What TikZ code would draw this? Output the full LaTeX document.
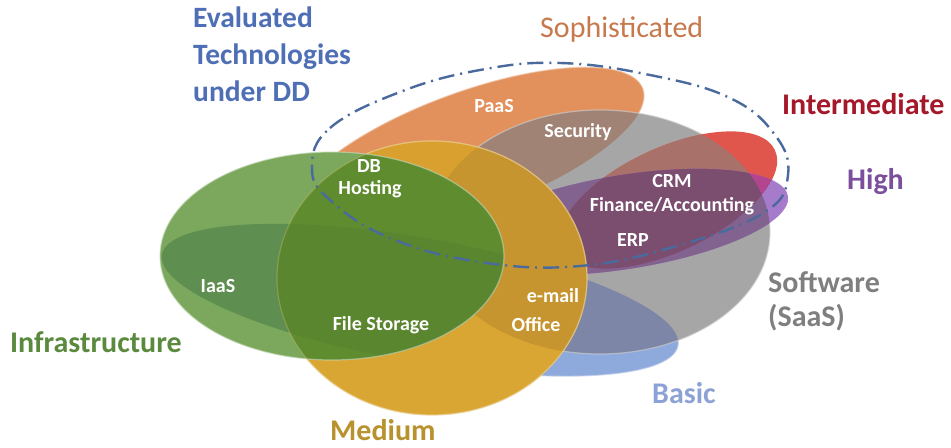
\documentclass[tikz,border=0pt]{standalone}
\usepackage{fontspec}
\setmainfont{Carlito}
\definecolor{cBlue}{HTML}{8EA9DB}
\definecolor{cOrange}{HTML}{E3915C}
\definecolor{cGray}{HTML}{A6A6A6}
\definecolor{cSec}{HTML}{A08374}
\definecolor{cGB}{HTML}{7D86A6}
\definecolor{cRed}{HTML}{E0554C}
\definecolor{cRG}{HTML}{A8716A}
\definecolor{cPur}{HTML}{A77BCB}
\definecolor{cPG}{HTML}{82638F}
\definecolor{cPR}{HTML}{B3458F}
\definecolor{cPRG}{HTML}{7B4E70}
\definecolor{cYel}{HTML}{D9A533}
\definecolor{cYO}{HTML}{D9A030}
\definecolor{cYG}{HTML}{C6952F}
\definecolor{cGrn}{HTML}{7BA85C}
\definecolor{cGnB}{HTML}{5E8E50}
\definecolor{cGnY}{HTML}{5E8C2F}
\definecolor{cGnYB}{HTML}{5A8630}
\definecolor{cDash}{HTML}{4A6A9E}
\definecolor{cEval}{HTML}{4E6FB5}
\definecolor{cSoph}{HTML}{C7794D}
\definecolor{cInt}{HTML}{A5182A}
\definecolor{cHigh}{HTML}{7B4F9E}
\definecolor{cSoft}{HTML}{7F7F7F}
\definecolor{cBasic}{HTML}{8CA2D6}
\definecolor{cInfra}{HTML}{5A8A3E}
\definecolor{cMed}{HTML}{B8922D}
\def\pBlue{[rotate around={-10:(420,300)}] (420,300) ellipse [x radius=262bp, y radius=62bp]}
\def\pOrange{[rotate around={20:(469,152)}] (469,152) ellipse [x radius=185bp, y radius=60bp]}
\def\pGray{(600,232) ellipse [x radius=170bp, y radius=122bp]}
\def\pRed{[rotate around={25:(668,200)}] (668,200) ellipse [x radius=118bp, y radius=52bp]}
\def\pPurple{[rotate around={9:(625,222)}] (625,222) ellipse [x radius=165bp, y radius=47bp]}
\def\pYellow{(432,278) ellipse [x radius=155bp, y radius=137bp]}
\def\pGreen{(332,256) ellipse [x radius=172bp, y radius=104bp]}
\tikzset{
  outer/.style={font=\fontsize{30bp}{36bp}\selectfont\bfseries, inner sep=0pt, anchor=base west},
  inner/.style={font=\fontsize{20bp}{24bp}\selectfont\bfseries, text=white, inner sep=0pt, anchor=base},
  edge/.style={line width=1.2bp, opacity=0.6},
  ddline/.style={draw=cDash, line width=2.4bp, dash pattern=on 16bp off 6bp on 2bp off 6bp}
}
\begin{document}
\begin{tikzpicture}[x=1bp,y=-1bp]
\useasboundingbox (0,0) rectangle (951,448);
\fill[white] (0,0) rectangle (951,448);
% Basic
\fill[cBlue]\pBlue;
\draw[edge, draw=cBlue!60!white]\pBlue;
% Sophisticated
\fill[cOrange]\pOrange;
\draw[edge, draw=cOrange!50!white]\pOrange;
% Software
\fill[cGray]\pGray;
\begin{scope}\clip\pGray; \fill[cSec]\pOrange; \fill[cGB]\pBlue; \end{scope}
\draw[edge, draw=cGray!50!white]\pGray;
% Intermediate
\fill[cRed]\pRed;
\begin{scope}\clip\pRed; \fill[cRG]\pGray; \end{scope}
% High
\fill[cPur]\pPurple;
\begin{scope}\clip\pPurple; \fill[cPG]\pGray; \clip\pRed; \fill[cPR]\pRed; \clip\pGray; \fill[cPRG]\pGray; \end{scope}
% Medium
\fill[cYel]\pYellow;
\begin{scope}\clip\pYellow; \fill[cYO]\pOrange; \fill[cYG]\pGray; \end{scope}
\draw[edge, draw=cYel!50!white]\pYellow;
% Infrastructure
\fill[cGrn]\pGreen;
\begin{scope}\clip\pGreen; \fill[cGnB]\pBlue; \fill[cGnY]\pYellow; \clip\pBlue; \fill[cGnYB]\pYellow; \end{scope}
\draw[edge, draw=cGrn!40!white]\pGreen;
\draw[edge, draw=cYel!60!white, opacity=0.3]\pYellow;
% evaluated technologies boundary
\draw[ddline] plot[smooth cycle, tension=0.7] coordinates {(312,168) (330,128) (400,92) (480,70) (560,63) (650,75) (730,98) (775,135) (788,175) (765,212) (680,245) (580,266) (480,262) (390,238) (330,200)};
% outer labels
\node[outer, text=cEval, font=\fontsize{29.5bp}{35bp}\selectfont\bfseries] (ev1) at (193,28) {Evaluated};
\node[outer, text=cEval, font=\fontsize{29.5bp}{35bp}\selectfont\bfseries] (ev2) at (193,65) {Technologies};
\node[outer, text=cEval, font=\fontsize{29.5bp}{35bp}\selectfont\bfseries] (ev3) at (193,102) {under DD};
\node[outer, text=cSoph, font=\fontsize{30bp}{36bp}\selectfont] (soph) at (540,38) {Sophisticated};
\node[outer, text=cInt] (int) at (782,115) {Intermediate};
\node[outer, text=cHigh] (high) at (847,190) {High};
\node[outer, text=cSoft] (soft1) at (768,293) {Software};
\node[outer, text=cSoft] (soft2) at (768,327) {(SaaS)};
\node[outer, text=cBasic] (basic) at (652,403) {Basic};
\node[outer, text=cInfra] (infra) at (10,353) {Infrastructure};
\node[outer, text=cMed] (med) at (330,440) {Medium};
% inner labels
\node[inner] (paas) at (494,113) {PaaS};
\node[inner] (sec) at (578,138) {Security};
\node[inner] (db) at (369,173) {DB};
\node[inner] (host) at (370,195) {Hosting};
\node[inner] (crm) at (672,188) {CRM};
\node[inner] (fin) at (672,212) {Finance/Accounting};
\node[inner] (erp) at (633,247) {ERP};
\node[inner] (iaas) at (218,293) {IaaS};
\node[inner] (file) at (381,331) {File Storage};
\node[inner] (mail) at (553,303) {e-mail};
\node[inner] (off) at (536,332) {Office};
\end{tikzpicture}
\end{document}
